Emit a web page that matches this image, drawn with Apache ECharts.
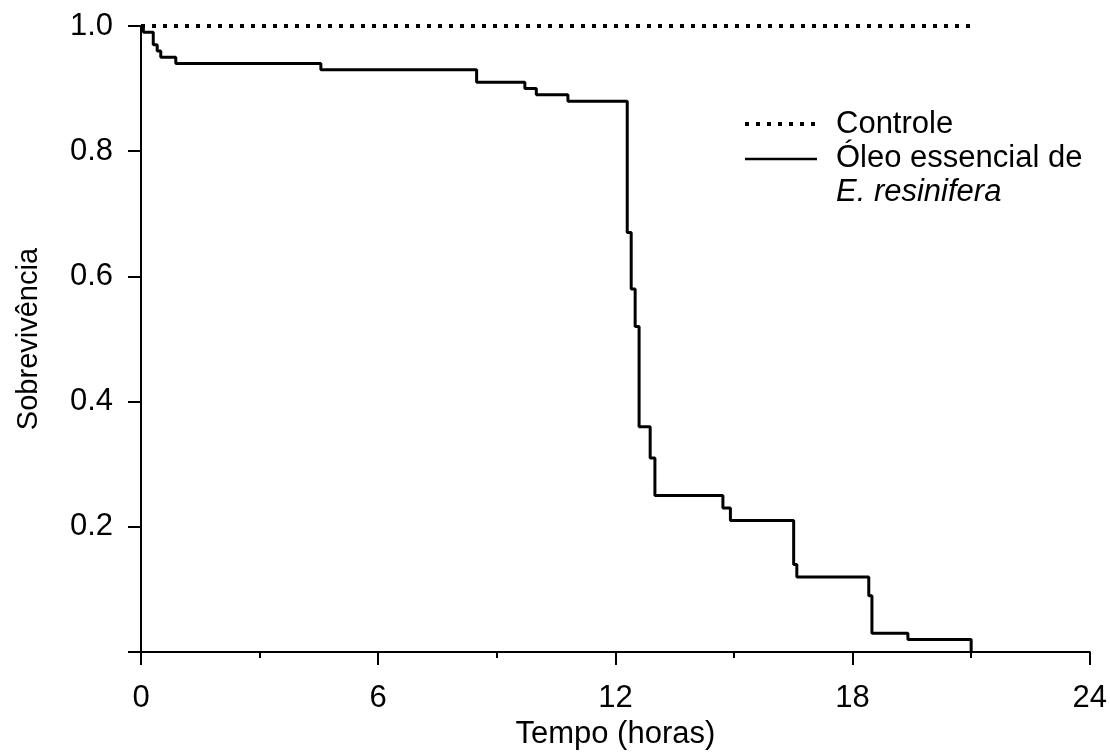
<!DOCTYPE html>
<html>
<head>
<meta charset="utf-8">
<script src="https://cdn.jsdelivr.net/npm/echarts@6/dist/echarts.min.js"></script>
<style>
  html, body { margin: 0; padding: 0; background: #fff; }
  #chart { width: 1110px; height: 755px; }
</style>
</head>
<body>
<div id="chart"></div>
<script>
// Kaplan–Meier survival: control vs. essential oil of E. resinifera
const controlTimes = [0, 21];
const controlSurv = [1.0, 1.0];

const oilTimes = [0, 0.06, 0.31, 0.41, 0.50, 0.88, 4.55, 8.49, 9.71, 10.0, 10.8,
                  12.30, 12.40, 12.50, 12.60, 12.88, 13.0, 14.72, 14.91, 16.51,
                  16.59, 18.41, 18.49, 19.40, 21.0];
const oilSurv = [1.0, 0.99, 0.97, 0.96, 0.95, 0.94, 0.93, 0.91, 0.90, 0.89, 0.88,
                 0.67, 0.58, 0.52, 0.36, 0.31, 0.25, 0.23, 0.21, 0.14,
                 0.12, 0.09, 0.03, 0.02, 0.00];

const xTicks = [0, 6, 12, 18, 24];
const yTicks = [0.2, 0.4, 0.6, 0.8, 1.0];

const seriesNames = ['Controle', 'Óleo essencial de', 'E. resinifera'];

const FONT = 'Liberation Sans, Arial, sans-serif';
const INK = '#000';
const FS = 31;

const chart = echarts.init(document.getElementById('chart'), null, { renderer: 'canvas' });

const pairs = (xs, ys) => xs.map((x, i) => [x, ys[i]]);

const option = {
  backgroundColor: '#fff',
  animation: false,
  grid: { left: 141, right: 20, top: 26, bottom: 94, containLabel: false },
  xAxis: {
    type: 'value',
    min: xTicks[0],
    max: xTicks[xTicks.length - 1],
    interval: 6,
    name: 'Tempo (horas)',
    nameLocation: 'middle',
    nameGap: 61,
    nameTextStyle: { fontFamily: FONT, fontSize: FS, color: INK },
    axisLine: { show: true, lineStyle: { color: INK, width: 2 } },
    axisTick: { show: true, length: 13, lineStyle: { color: INK, width: 2 } },
    minorTick: { show: true, splitNumber: 2, length: 6, lineStyle: { color: INK, width: 2 } },
    splitLine: { show: false },
    axisLabel: { fontFamily: FONT, fontSize: FS, color: INK, margin: 31 }
  },
  yAxis: {
    type: 'value',
    min: 0,
    max: 1,
    interval: 0.2,
    name: 'Sobrevivência',
    nameLocation: 'middle',
    nameGap: 98,
    nameTextStyle: { fontFamily: FONT, fontSize: 29, color: INK },
    axisLine: { show: true, lineStyle: { color: INK, width: 2 } },
    axisTick: { show: true, length: 13, lineStyle: { color: INK, width: 2 } },
    splitLine: { show: false },
    axisLabel: {
      fontFamily: FONT, fontSize: FS, color: INK, margin: 28,
      formatter: v => (yTicks.some(t => Math.abs(t - v) < 1e-9) ? v.toFixed(1) : '')
    }
  },
  series: [
    {
      name: seriesNames[0],
      type: 'line',
      data: pairs(controlTimes, controlSurv),
      showSymbol: false,
      symbol: 'none',
      lineStyle: { color: INK, width: 4, type: [4, 7], cap: 'butt' },
      z: 2
    },
    {
      name: seriesNames[1] + ' ' + seriesNames[2],
      type: 'line',
      step: 'end',
      data: pairs(oilTimes, oilSurv),
      showSymbol: false,
      symbol: 'none',
      lineStyle: { color: INK, width: 3 },
      z: 3
    }
  ],
  graphic: [
    { type: 'line', shape: { x1: 745, y1: 124, x2: 817, y2: 124 },
      style: { stroke: INK, lineWidth: 4, lineDash: [4, 7] } },
    { type: 'line', shape: { x1: 745, y1: 159, x2: 817, y2: 159 },
      style: { stroke: INK, lineWidth: 2.5 } },
    { type: 'text', left: 836, top: 109,
      style: { text: seriesNames[0], font: FS + 'px ' + FONT, fill: INK } },
    { type: 'text', left: 836, top: 143,
      style: { text: seriesNames[1], font: FS + 'px ' + FONT, fill: INK } },
    { type: 'text', left: 836, top: 177,
      style: { text: seriesNames[2], font: 'italic ' + FS + 'px ' + FONT, fill: INK } }
  ]
};

chart.setOption(option);
</script>
</body>
</html>
